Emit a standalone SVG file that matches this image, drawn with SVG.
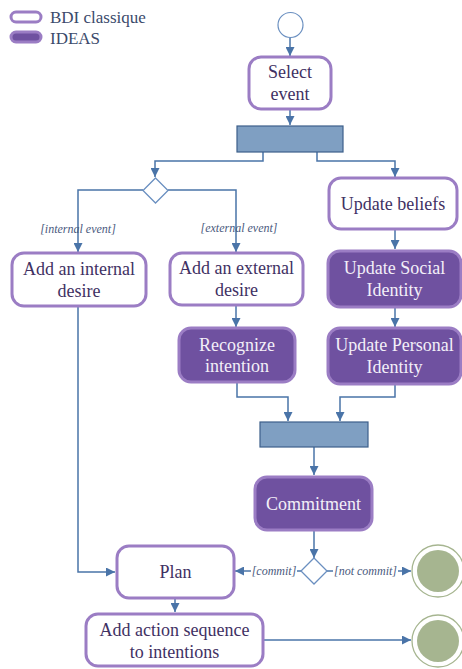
<svg xmlns="http://www.w3.org/2000/svg" width="462" height="669" viewBox="0 0 462 669">
  <style>
    .bdi { fill: #ffffff; stroke: #9b7dc4; stroke-width: 3; }
    .ideas { fill: #6f51a0; stroke: #9b7dc4; stroke-width: 3; }
    .bar { fill: #7f9fc2; stroke: #3d5f8a; stroke-width: 1.2; }
    .flow { fill: none; stroke: #4a74a8; stroke-width: 1.5; }
    .diamond { fill: #ffffff; stroke: #6a8fc0; stroke-width: 1.3; }
    .t { font-family: "Liberation Serif", "Times New Roman", serif; font-size: 18px; text-anchor: middle; }
    .dark { fill: #3f3163; }
    .light { fill: #f3eff8; }
    .guard { font-family: "Liberation Serif", "Times New Roman", serif; font-size: 12px; font-style: italic; fill: #4a5a7e; text-anchor: middle; }
    .legend { font-family: "Liberation Serif", "Times New Roman", serif; font-size: 17px; fill: #3b4a6b; }
    .final-ring { fill: #ffffff; stroke: #a6b590; stroke-width: 1.3; }
    .final-dot { fill: #a6b590; }
  </style>
  <defs>
    <marker id="arrow" viewBox="0 0 10 10" refX="10" refY="5" markerWidth="9" markerHeight="9" markerUnits="userSpaceOnUse" orient="auto">
      <path d="M0,0 L10,5 L0,10 z" fill="#4a74a8"/>
    </marker>
  </defs>

  <!-- legend -->
  <g id="legend">
    <rect x="11" y="12" width="30" height="10" rx="5" class="bdi"/>
    <text x="50" y="23" class="legend">BDI classique</text>
    <rect x="11" y="32" width="30" height="10" rx="5" class="ideas"/>
    <text x="50" y="44" class="legend">IDEAS</text>
  </g>

  <!-- connectors -->
  <g id="connectors">
    <path class="flow" d="M290,38 V56" marker-end="url(#arrow)"/>
    <path class="flow" d="M290,110 V125" marker-end="url(#arrow)"/>
    <path class="flow" d="M263,152 V161 H155 V177" marker-end="url(#arrow)"/>
    <path class="flow" d="M317,152 V161 H395 V177" marker-end="url(#arrow)"/>
    <path class="flow" d="M143,190 H78 V252" marker-end="url(#arrow)"/>
    <path class="flow" d="M168,190 H236 V252" marker-end="url(#arrow)"/>
    <path class="flow" d="M236,306 V327" marker-end="url(#arrow)"/>
    <path class="flow" d="M395,230 V249" marker-end="url(#arrow)"/>
    <path class="flow" d="M395,308 V327" marker-end="url(#arrow)"/>
    <path class="flow" d="M237,383 V397 H288 V421" marker-end="url(#arrow)"/>
    <path class="flow" d="M395,385 V397 H340 V421" marker-end="url(#arrow)"/>
    <path class="flow" d="M314,447 V475" marker-end="url(#arrow)"/>
    <path class="flow" d="M314,531 V558" marker-end="url(#arrow)"/>
    <path class="flow" d="M78,307 V572 H115" marker-end="url(#arrow)"/>
    <path class="flow" d="M301,571 H235" marker-end="url(#arrow)"/>
    <path class="flow" d="M327,571 H411" marker-end="url(#arrow)"/>
    <path class="flow" d="M175,599 V612" marker-end="url(#arrow)"/>
    <path class="flow" d="M264,640 H411" marker-end="url(#arrow)"/>
    <!-- guard labels -->
    <text x="78" y="233" class="guard">[internal event]</text>
    <text x="239" y="232" class="guard">[external event]</text>
    <rect x="251" y="564" width="46" height="14" fill="#ffffff"/>
    <text x="274" y="575" class="guard">[commit]</text>
    <rect x="333" y="564" width="65" height="14" fill="#ffffff"/>
    <text x="365.5" y="575" class="guard">[not commit]</text>
  </g>

  <g id="start">
    <circle cx="290.5" cy="25" r="12.5" fill="#ffffff" stroke="#6a8fc0" stroke-width="1.2"/>
  </g>

  <g id="select-event">
    <rect x="249" y="57" width="82" height="52" rx="12" class="bdi"/>
    <text x="290" y="78" class="t dark">Select</text>
    <text x="290" y="100" class="t dark">event</text>
  </g>

  <g id="fork">
    <rect x="237" y="126" width="106" height="26" class="bar"/>
  </g>

  <g id="event-decision">
    <path d="M155.5,178 L168,190.5 L155.5,203 L143,190.5 z" class="diamond"/>
  </g>

  <g id="update-beliefs">
    <rect x="329" y="178" width="128" height="51" rx="12" class="bdi"/>
    <text x="393" y="210" class="t dark">Update beliefs</text>
  </g>

  <g id="add-internal-desire">
    <rect x="12" y="253" width="134" height="53" rx="12" class="bdi"/>
    <text x="79" y="275" class="t dark">Add an internal</text>
    <text x="79" y="297" class="t dark">desire</text>
  </g>

  <g id="add-external-desire">
    <rect x="170" y="253" width="133" height="52" rx="12" class="bdi"/>
    <text x="236.5" y="274" class="t dark">Add an external</text>
    <text x="236.5" y="296" class="t dark">desire</text>
  </g>

  <g id="update-social-identity">
    <rect x="328" y="251" width="133" height="56" rx="12" class="ideas"/>
    <text x="394.5" y="274" class="t light">Update Social</text>
    <text x="394.5" y="296" class="t light">Identity</text>
  </g>

  <g id="recognize-intention">
    <rect x="179" y="328" width="116" height="54" rx="12" class="ideas"/>
    <text x="237" y="351" class="t light">Recognize</text>
    <text x="237" y="372" class="t light">intention</text>
  </g>

  <g id="update-personal-identity">
    <rect x="328" y="328" width="133" height="56" rx="12" class="ideas"/>
    <text x="394.5" y="351" class="t light">Update Personal</text>
    <text x="394.5" y="373" class="t light">Identity</text>
  </g>

  <g id="join">
    <rect x="260" y="422" width="108" height="25" class="bar"/>
  </g>

  <g id="commitment">
    <rect x="255" y="477" width="117" height="53" rx="12" class="ideas"/>
    <text x="313.5" y="510" class="t light">Commitment</text>
  </g>

  <g id="commit-decision">
    <path d="M314,558 L327,571 L314,584 L301,571 z" class="diamond"/>
  </g>

  <g id="plan">
    <rect x="117" y="546" width="117" height="52" rx="12" class="bdi"/>
    <text x="175.5" y="578" class="t dark">Plan</text>
  </g>

  <g id="add-action-sequence">
    <rect x="86" y="614" width="177" height="52" rx="12" class="bdi"/>
    <text x="174.5" y="636" class="t dark">Add action sequence</text>
    <text x="174.5" y="658" class="t dark">to intentions</text>
  </g>

  <g id="final-not-commit">
    <circle cx="438" cy="571" r="26" class="final-ring"/>
    <circle cx="438" cy="571" r="21" class="final-dot"/>
  </g>

  <g id="final-end">
    <circle cx="438" cy="641" r="26" class="final-ring"/>
    <circle cx="438" cy="641" r="21" class="final-dot"/>
  </g>
</svg>
